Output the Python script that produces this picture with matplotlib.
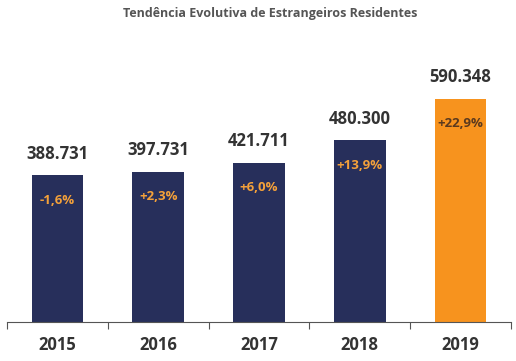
import numpy as np
import matplotlib.pyplot as plt

anos = ["2015", "2016", "2017", "2018", "2019"]
residentes = [388731, 397731, 421711, 480300, 590348]
rotulos = ["388.731", "397.731", "421.711", "480.300", "590.348"]
variacao = ["-1,6%", "+2,3%", "+6,0%", "+13,9%", "+22,9%"]

azul = "#272f5b"
laranja = "#f7931e"
cores = [azul] * 4 + [laranja]
cor_pct = ["#f4a13a"] * 4 + ["#5b3a1e"]

plt.rcParams['font.family'] = ['Open Sans', 'DejaVu Sans']

fig = plt.figure(figsize=(5.16, 3.61), dpi=100)
ax = fig.add_axes([7 / 516, 1 - 322 / 361, 504 / 516, 262 / 361])

x = np.arange(len(anos))
barras = ax.bar(x, residentes, width=0.51, color=cores)
ax.set_xlim(-0.5, 4.5)
ax.set_ylim(0, 262 / 0.000378)

for b, r, v, c in zip(barras, rotulos, variacao, cor_pct):
    cx = b.get_x() + b.get_width() / 2
    h = b.get_height()
    ax.annotate(r, (cx, h), xytext=(0, 9), textcoords="offset points",
                ha="center", va="bottom", fontsize=12, fontweight="bold", color="#333333")
    ax.annotate(v, (cx, h), xytext=(0, -18), textcoords="offset points",
                ha="center", va="center", fontsize=9.5, fontweight="bold", color=c)

for s in ["top", "right", "left"]:
    ax.spines[s].set_visible(False)
ax.spines["bottom"].set_color("#555555")
ax.set_yticks([])
ax.set_xticks(np.arange(-0.5, 5, 1))
ax.set_xticklabels([])
ax.set_xticks(x, minor=True)
ax.set_xticklabels(anos, minor=True, fontsize=12, fontweight="bold", color="#333333")
ax.tick_params(axis="x", which="major", length=5, color="#555555", direction="out")
ax.tick_params(axis="x", which="minor", length=0, pad=10)

fig.text(270 / 516, 1 - 14 / 361, "Tendência Evolutiva de Estrangeiros Residentes",
         ha="center", va="center", fontsize=9, fontweight="bold", color="#555555")

fig.savefig("out.png", dpi=100)
